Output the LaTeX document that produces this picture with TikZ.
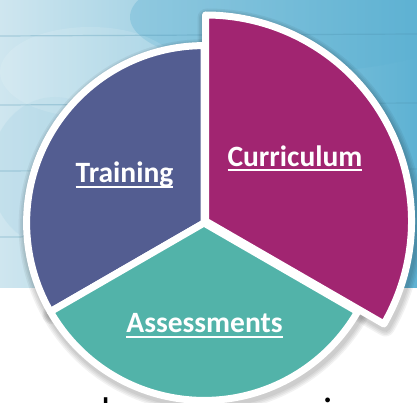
\documentclass[tikz,border=0pt]{standalone}
\usepackage{fontspec}
\setmainfont{Carlito}
\definecolor{trainC}{HTML}{535D91}
\definecolor{currC}{HTML}{A12571}
\definecolor{assessC}{HTML}{52B3A9}
\definecolor{skyL}{HTML}{CFE6EF}
\definecolor{skyM}{HTML}{A9D3E5}
\definecolor{skyR}{HTML}{5EB2D3}
\definecolor{plank}{HTML}{4E93B0}
\begin{document}
\begin{tikzpicture}[x=1pt,y=1pt,
  slice/.style={draw=white, line width=7pt, line join=round},
  softshade/.style={draw=black, line join=round, opacity=0.05},
  label/.style={text=white, font=\bfseries\fontsize{29.5}{34}\selectfont, anchor=base, inner sep=0pt},
  cutword/.style={text=black, font=\fontsize{40}{48}\selectfont, anchor=base, inner sep=0pt}
]
\clip (0,0) rectangle (417,402);
\useasboundingbox (0,0) rectangle (417,402);
\fill[white] (0,0) rectangle (417,402);

% watercolour backdrop with wooden planks
\shade[left color=skyL, middle color=skyM, right color=skyR] (0,115) rectangle (417,402);
\begin{scope}
  \clip (0,115) rectangle (417,402);
  \fill[skyR, opacity=0.35] (300,385) ellipse [x radius=170, y radius=55];
  \fill[skyM, opacity=0.3] (55,230) ellipse [x radius=65, y radius=75];
  \fill[white, opacity=0.12] (90,330) ellipse [x radius=90, y radius=45];
  \foreach \py in {366,297,231,165}
    \draw[plank, opacity=0.3, line width=1.2pt] (0,\py) -- (417,\py+2);
\end{scope}

% the three slices: centre x / centre y / start / end / radius / colour
\def\slices{204/179/90/210/177.4/trainC, 204/179/210/330/177.4/assessC, 205.5/181/-30/90/206/currC}

% soft drop shadow under the slices
\foreach \cx/\cy/\a/\b/\r/\c in \slices
  \foreach \w in {19,16,13,10}
    \draw[softshade, line width=\w pt, shift={(1.5,-3)}]
      (\cx,\cy) -- ++(\a:\r) arc[start angle=\a, end angle=\b, radius=\r] -- cycle;

\foreach \cx/\cy/\a/\b/\r/\c in \slices
  \filldraw[slice, fill=\c]
    (\cx,\cy) -- ++(\a:\r) arc[start angle=\a, end angle=\b, radius=\r] -- cycle;

\newcommand\ulabel[1]{\setbox0\hbox{#1}\rlap{\rule[-5.5pt]{\wd0}{2pt}}\box0}

\node[label] (training)    at (124.5,219) {\ulabel{Training}};
\node[label] (curriculum)  at (295,236)   {\ulabel{Curriculum}};
\node[label] (assessments) at (204.5,70)  {\ulabel{Assessments}};

% start of the caption line below the chart
\node[cutword] (capl) at (106,-23) {l};
\node[cutword] (capi) at (328,-23) {i};
\end{tikzpicture}
\end{document}
